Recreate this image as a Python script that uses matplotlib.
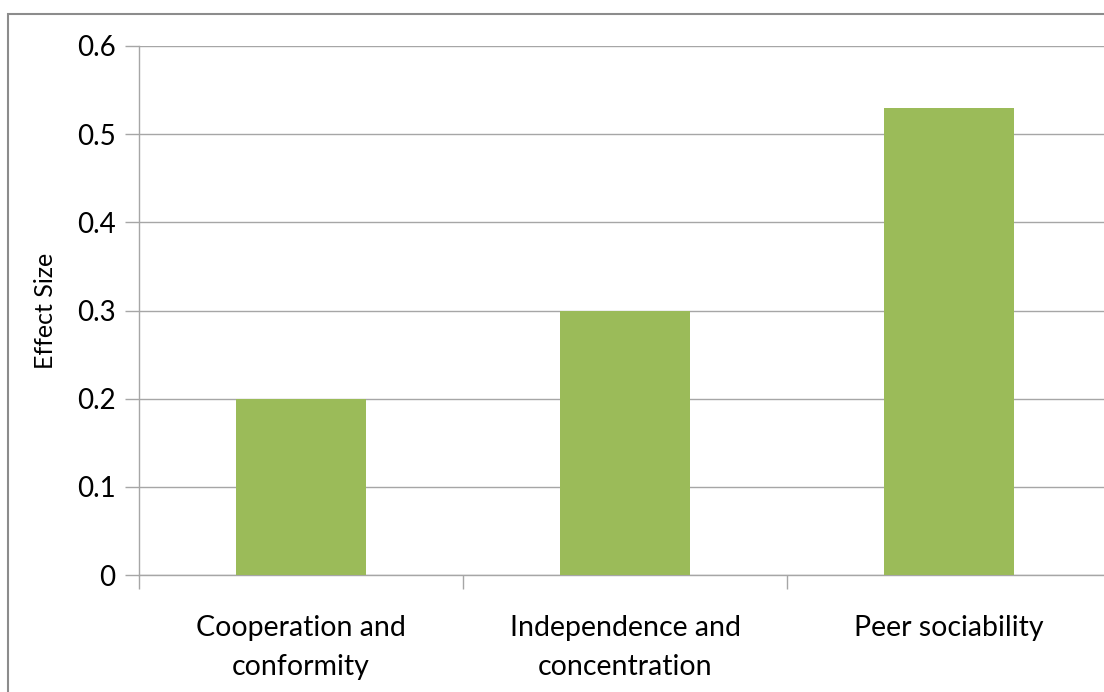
import matplotlib
matplotlib.use("Agg")
import matplotlib.pyplot as plt
from matplotlib.patches import Rectangle

categories = ["Cooperation and\nconformity", "Independence and\nconcentration", "Peer sociability"]
effect_sizes = [0.2, 0.3, 0.53]
y_ticks = [0, 0.1, 0.2, 0.3, 0.4, 0.5, 0.6]
y_tick_labels = ["0", "0.1", "0.2", "0.3", "0.4", "0.5", "0.6"]

W, H = 1104, 692
plt.rcParams["font.family"] = ["Lato", "DejaVu Sans"]

fig = plt.figure(figsize=(W / 100, H / 100), dpi=100)
fig.patch.set_facecolor("white")

# outer chart frame (runs past the right and bottom edges)
fig.patches.append(Rectangle((8 / W, -0.1), 1.2, (H - 14) / H + 0.1,
                             transform=fig.transFigure, fill=False,
                             edgecolor="#8c8c8c", linewidth=1.5))

left, right, top, bottom = 139, 1111, 46, 575
ax = fig.add_axes([left / W, (H - bottom) / H, (right - left) / W, (bottom - top) / H])
ax.set_facecolor("none")

x = list(range(len(categories)))
ax.bar(x, effect_sizes, width=0.4, color="#9BBB59", zorder=3)

ax.set_xlim(-0.5, len(categories) - 0.5)
ax.set_ylim(0, 0.6)
ax.set_yticks(y_ticks)
ax.set_yticklabels(y_tick_labels)
ax.yaxis.grid(True, color="#a6a6a6", linewidth=1.0, zorder=0)

ax.set_xticks(x)
ax.set_xticklabels(categories, linespacing=1.6)
ax.set_xticks([i - 0.5 for i in range(len(categories) + 1)], minor=True)
ax.tick_params(axis="x", which="major", length=0, pad=29, labelsize=20.5)
ax.tick_params(axis="x", which="minor", length=10, color="#a6a6a6", width=1.0)
ax.tick_params(axis="y", length=10, color="#a6a6a6", width=1.0, pad=7, labelsize=20)

for side in ("top", "right"):
    ax.spines[side].set_visible(False)
for side in ("left", "bottom"):
    ax.spines[side].set_color("#a6a6a6")
    ax.spines[side].set_linewidth(1.0)

ax.set_ylabel("Effect Size", fontsize=18, labelpad=14)

fig.savefig("out.png", dpi=100, facecolor="white")
